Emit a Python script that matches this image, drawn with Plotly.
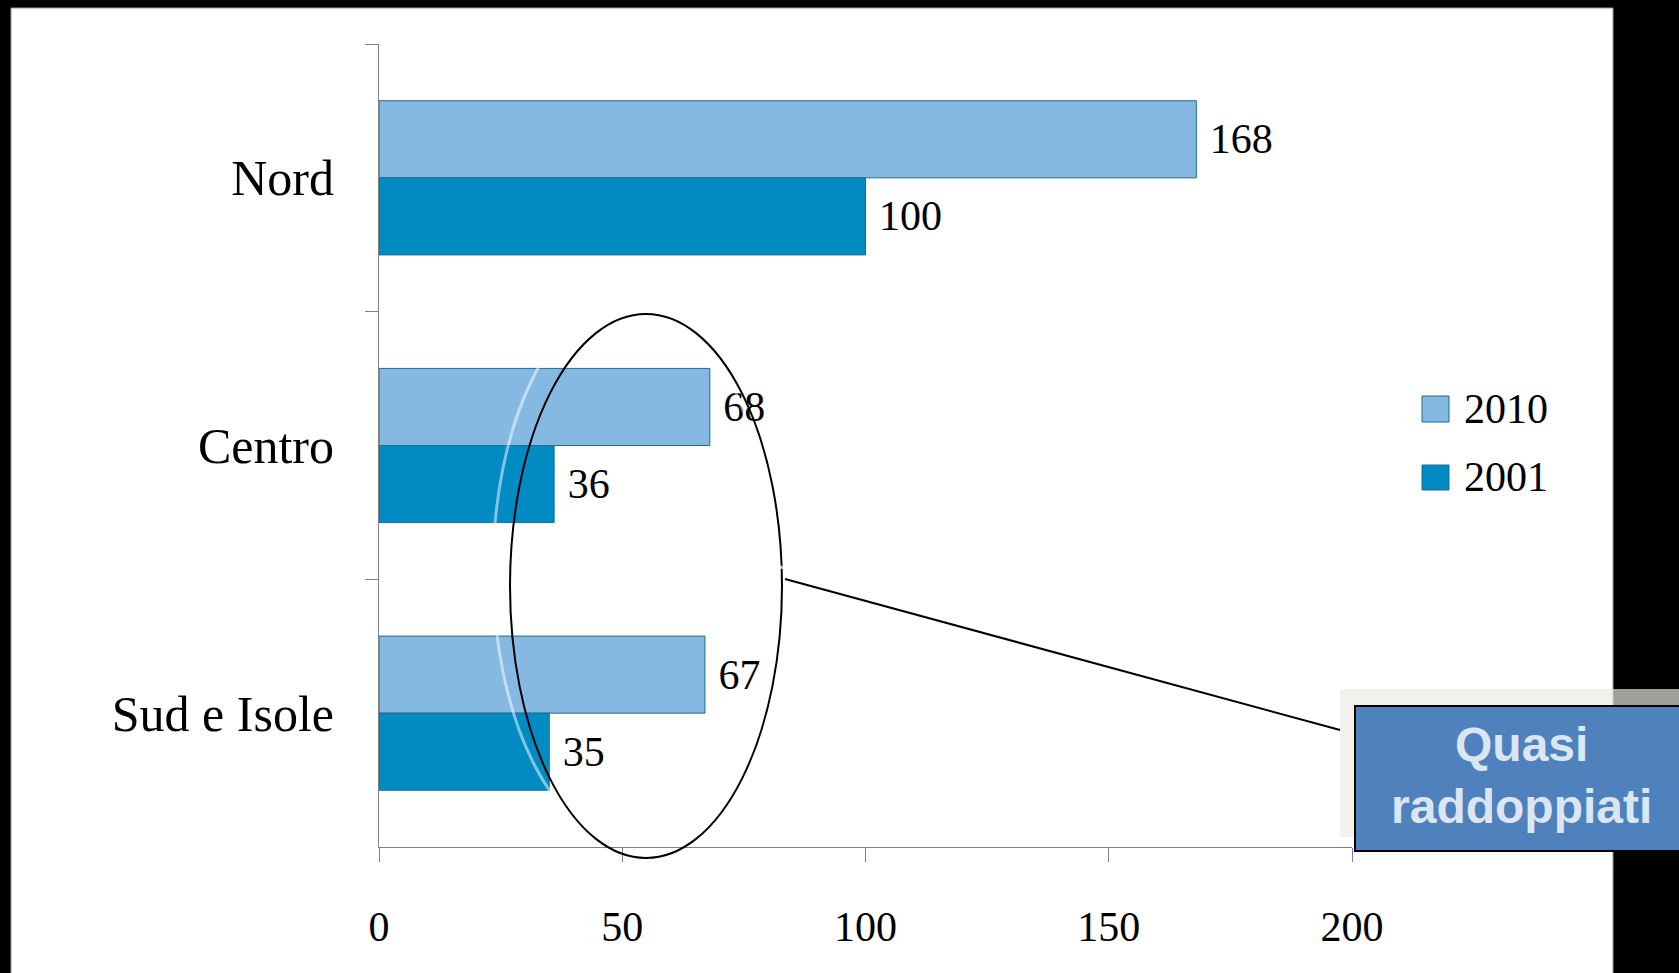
import plotly.graph_objects as go

# ---- data ----
categories = ["Nord", "Centro", "Sud e Isole"]
series_names = ["2010", "2001"]
values_2010 = [168, 68, 67]
values_2001 = [100, 36, 35]
x_ticks = [0, 50, 100, 150, 200]
callout_text = "Quasi<br>raddoppiati"

W, H = 1679, 973
L, R, T, B = 379, 1352, 44, 847  # plot area in pixels

def px(x):
    return (x - L) / (R - L)

def py(y):
    return (B - y) / (B - T)

colors = ["#86B9E1", "#008BC2"]
edge = "#1F6A92"
serif = "Liberation Serif"

fig = go.Figure()
for name, vals, col in zip(series_names, [values_2010, values_2001], colors):
    fig.add_trace(go.Bar(
        y=categories, x=vals, name=name, orientation="h",
        marker=dict(color=col, line=dict(color=edge, width=1)),
        text=vals, texttemplate=" %{x}", textposition="outside",
        textfont=dict(family=serif, size=42, color="black"),
        cliponaxis=False, showlegend=False,
    ))

shapes = []
# white slide area on black background
shapes.append(dict(type="rect", xref="paper", yref="paper", layer="below",
                   x0=px(11), x1=px(1613), y0=py(8), y1=py(990),
                   fillcolor="white", line=dict(color="#9a9a9a", width=1)))
# ellipse (glow + black)
shapes.append(dict(type="circle", xref="paper", yref="paper",
                   x0=px(493), x1=px(769), y0=py(297), y1=py(843),
                   line=dict(color="rgba(255,255,255,0.5)", width=3)))
shapes.append(dict(type="circle", xref="paper", yref="paper",
                   x0=px(510), x1=px(782), y0=py(314), y1=py(858),
                   line=dict(color="black", width=2)))
# connector lines
shapes.append(dict(type="line", xref="paper", yref="paper",
                   x0=px(769), y0=py(564), x1=px(1338), y1=py(715),
                   line=dict(color="rgba(255,255,255,0.7)", width=3)))
shapes.append(dict(type="line", xref="paper", yref="paper",
                   x0=px(785), y0=py(579), x1=px(1340), y1=py(730),
                   line=dict(color="black", width=2)))
# callout shadow + box
shapes.append(dict(type="rect", xref="paper", yref="paper",
                   x0=px(1340), x1=px(1690), y0=py(689), y1=py(837),
                   fillcolor="rgba(236,236,226,0.68)", line=dict(width=0)))
shapes.append(dict(type="rect", xref="paper", yref="paper",
                   x0=px(1355), x1=px(1700), y0=py(706), y1=py(851),
                   fillcolor="#4F81BD", line=dict(color="black", width=2)))
# legend squares
leg_y = [(396, 422), (465, 490)]
for (y0, y1), col in zip(leg_y, colors):
    shapes.append(dict(type="rect", xref="paper", yref="paper",
                       x0=px(1422), x1=px(1449), y0=py(y0), y1=py(y1),
                       fillcolor=col, line=dict(color=edge, width=1)))

annotations = []
for (y0, y1), name in zip(leg_y, series_names):
    annotations.append(dict(xref="paper", yref="paper", x=px(1462), y=py((y0 + y1) / 2),
                            xanchor="left", yanchor="middle", showarrow=False, text=name,
                            font=dict(family=serif, size=42, color="black")))
annotations.append(dict(xref="paper", yref="paper", x=px(1521), y=py(775),
                        xanchor="center", yanchor="middle", showarrow=False,
                        text="<b>" + callout_text + "</b>", align="center",
                        font=dict(family="Liberation Sans", size=48, color="#DCE6F2")))

fig.update_layout(
    width=W, height=H,
    margin=dict(l=L, r=W - R, t=T, b=H - B, pad=0),
    paper_bgcolor="black", plot_bgcolor="#E7EEF7",
    barmode="group", bargap=0.424, bargroupgap=0,
    shapes=shapes, annotations=annotations, showlegend=False,
)
fig.update_yaxes(type="category", categoryorder="array", categoryarray=categories,
                 autorange="reversed", tickson="boundaries",
                 ticks="outside", ticklen=13, tickcolor="#808080",
                 showline=True, linecolor="#808080", linewidth=1, showgrid=False,
                 ticklabelstandoff=34,
                 tickfont=dict(family=serif, size=50, color="black"))
fig.update_xaxes(range=[0, 200], tickmode="array", tickvals=x_ticks,
                 ticks="outside", ticklen=14, tickcolor="#808080",
                 showline=True, linecolor="#808080", linewidth=1,
                 showgrid=False, zeroline=False, ticklabelstandoff=29,
                 tickfont=dict(family=serif, size=42, color="black"))

fig.write_html("out.html", config={"displayModeBar": False},
               post_script="document.body.style.margin='0';document.body.style.overflow='hidden';")
